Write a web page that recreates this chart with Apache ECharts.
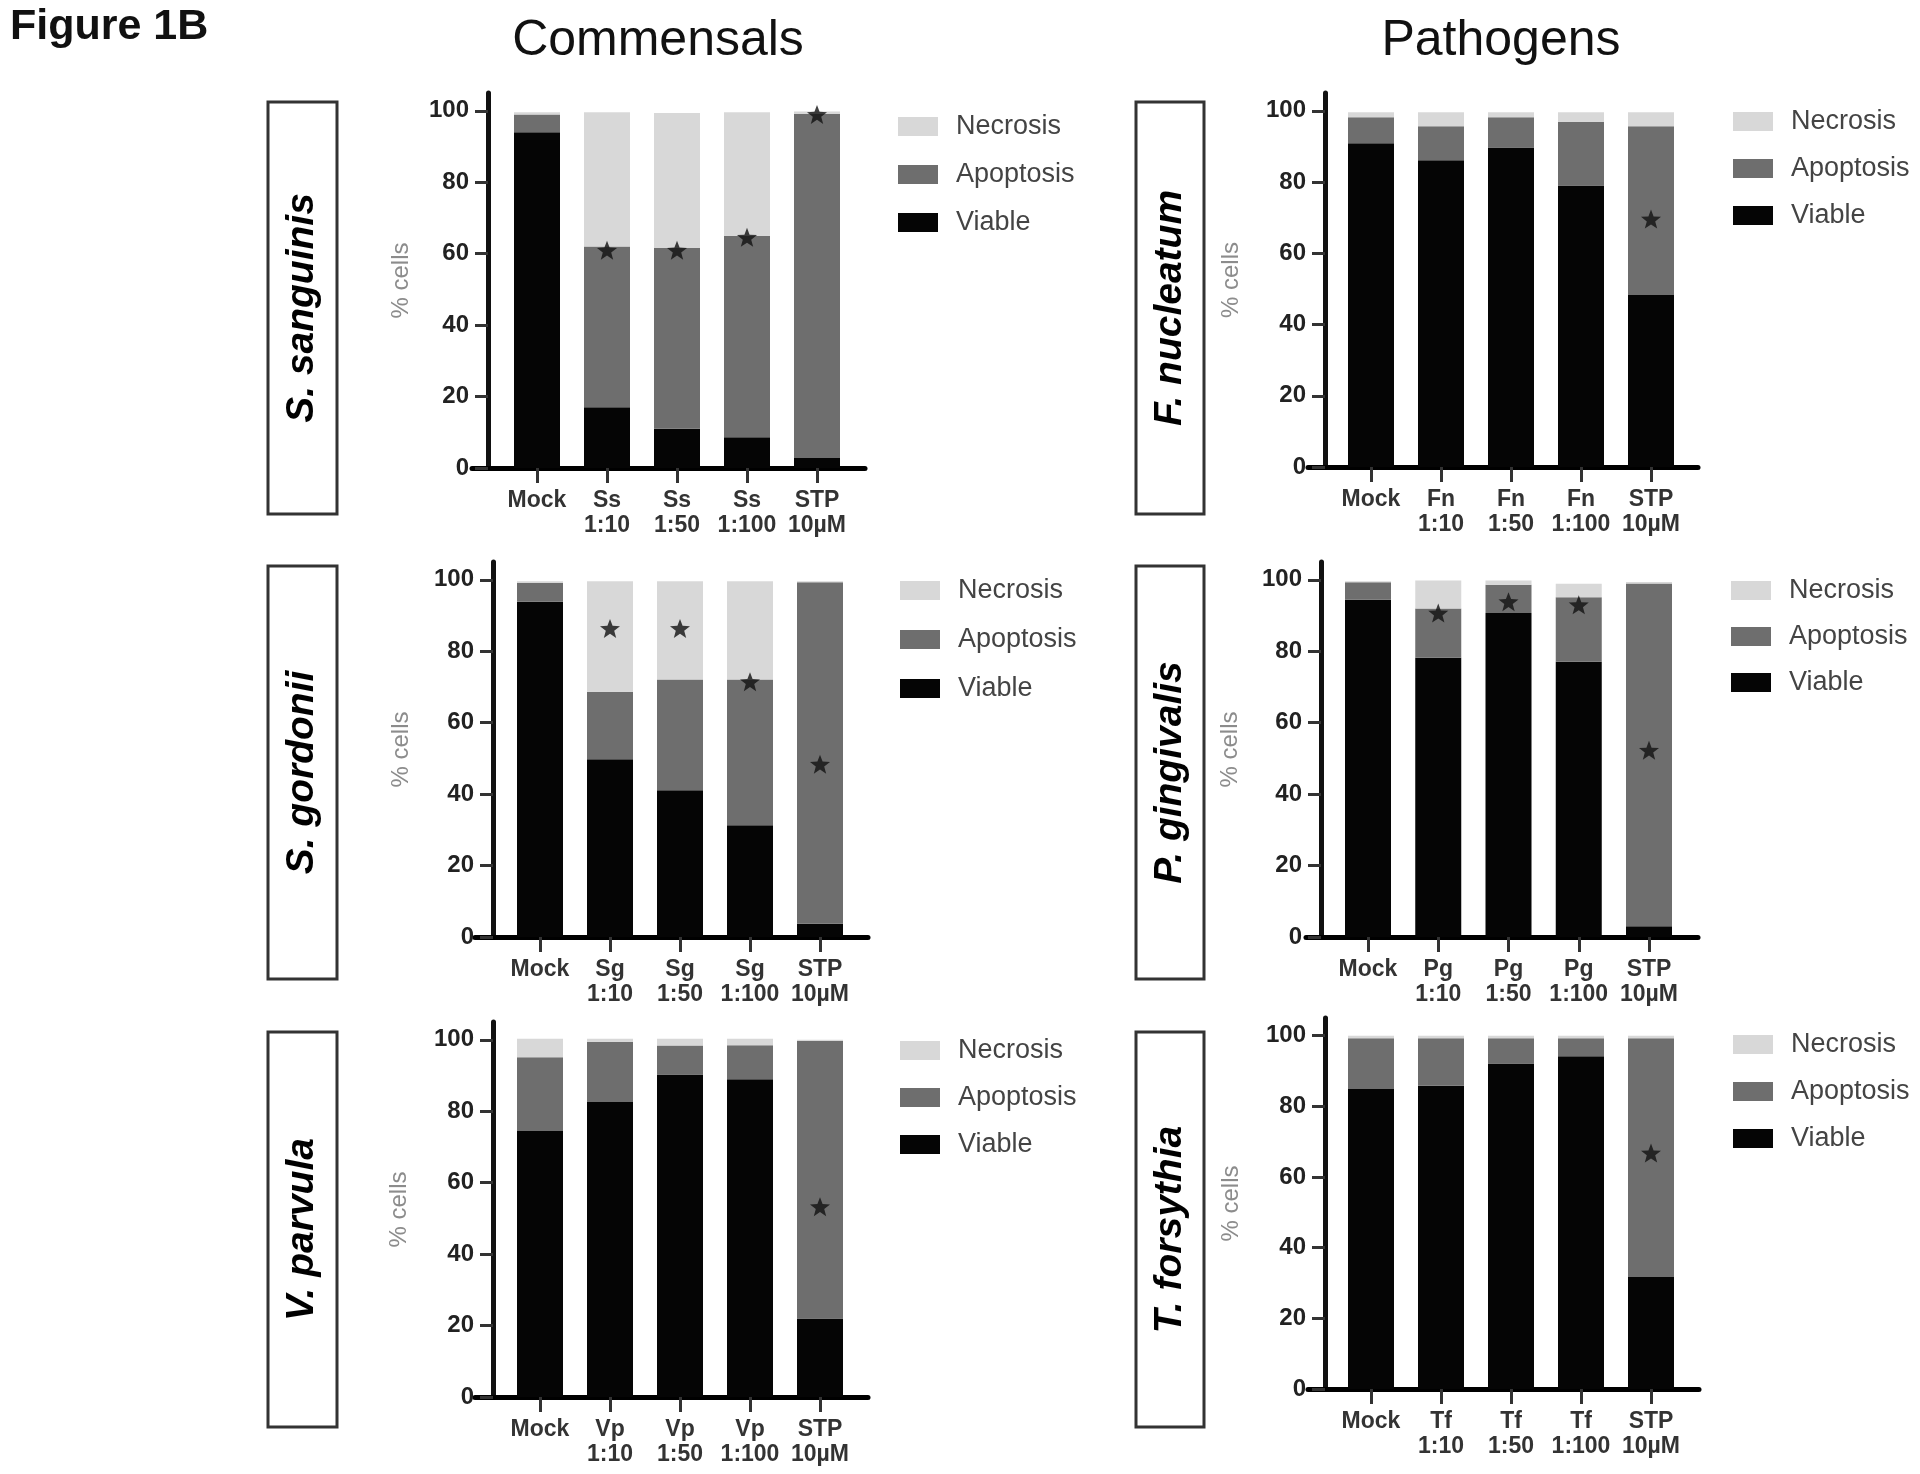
<!DOCTYPE html>
<html lang="en">
<head>
<meta charset="UTF-8">
<title>Figure 1B</title>
<style>
  html, body { margin: 0; padding: 0; background: #fff; }
  #fig { width: 1920px; height: 1474px; }
</style>
</head>
<body>
<div id="fig"></div>
<script src="https://cdn.jsdelivr.net/npm/echarts@6/dist/echarts.min.js"></script>
<script>
// x-axis categories of each panel
var catsSs = ['Mock', 'Ss\n1:10', 'Ss\n1:50', 'Ss\n1:100', 'STP\n10µM'];
var catsFn = ['Mock', 'Fn\n1:10', 'Fn\n1:50', 'Fn\n1:100', 'STP\n10µM'];
var catsSg = ['Mock', 'Sg\n1:10', 'Sg\n1:50', 'Sg\n1:100', 'STP\n10µM'];
var catsPg = ['Mock', 'Pg\n1:10', 'Pg\n1:50', 'Pg\n1:100', 'STP\n10µM'];
var catsVp = ['Mock', 'Vp\n1:10', 'Vp\n1:50', 'Vp\n1:100', 'STP\n10µM'];
var catsTf = ['Mock', 'Tf\n1:10', 'Tf\n1:50', 'Tf\n1:100', 'STP\n10µM'];

// % cells
var viableSs = [94, 17, 11, 8.6, 2.8];
var apopSs   = [5, 45, 50.6, 56.4, 96.4];
var necroSs  = [0.6, 37.6, 37.8, 34.6, 0.6];

var viableFn = [90.9, 86.1, 89.7, 79, 48.3];
var apopFn   = [7.3, 9.6, 8.5, 17.9, 47.4];
var necroFn  = [1.4, 3.9, 1.4, 2.7, 3.9];

var viableSg = [93.9, 49.8, 41.1, 31.3, 3.7];
var apopSg   = [5.2, 18.9, 31, 40.8, 95.6];
var necroSg  = [0.5, 30.9, 27.5, 27.5, 0.3];

var viablePg = [94.4, 78.2, 90.7, 77.1, 3];
var apopPg   = [4.9, 13.8, 7.9, 18, 96];
var necroPg  = [0.3, 7.8, 1.2, 3.8, 0.4];

var viableVp = [74.5, 82.6, 90.3, 89, 22];
var apopVp   = [20.6, 16.9, 8.1, 9.5, 77.7];
var necroVp  = [5.2, 0.8, 1.9, 1.8, 0.3];

var viableTf = [84.9, 85.8, 92.1, 94.2, 31.7];
var apopTf   = [14.4, 13.5, 7.2, 5.1, 67.6];
var necroTf  = [0.7, 0.7, 0.7, 0.7, 0.7];

// significance asterisks: [bar index, height in %]
var starsSs = [[1, 61], [2, 61], [3, 64.6], [4, 99]];
var starsFn = [[4, 69.6]];
var starsSg = [[1, 86.4], [2, 86.4], [3, 71.5], [4, 48.4]];
var starsPg = [[1, 90.7], [2, 93.9], [3, 93], [4, 52.3]];
var starsVp = [[4, 53.3]];
var starsTf = [[4, 66.8]];

var yTicks = [0, 20, 40, 60, 80, 100];
var legendNames = ['Necrosis', 'Apoptosis', 'Viable'];

var panels = [
  { name: 'S. sanguinis',  cats: catsSs, viable: viableSs, apop: apopSs, necro: necroSs, stars: starsSs },
  { name: 'F. nucleatum',  cats: catsFn, viable: viableFn, apop: apopFn, necro: necroFn, stars: starsFn },
  { name: 'S. gordonii',   cats: catsSg, viable: viableSg, apop: apopSg, necro: necroSg, stars: starsSg },
  { name: 'P. gingivalis', cats: catsPg, viable: viablePg, apop: apopPg, necro: necroPg, stars: starsPg },
  { name: 'V. parvula',    cats: catsVp, viable: viableVp, apop: apopVp, necro: necroVp, stars: starsVp },
  { name: 'T. forsythia',  cats: catsTf, viable: viableTf, apop: apopTf, necro: necroTf, stars: starsTf }
];

// where each panel sits on the page (px)
var layout = [
  { axisX: 488,  x0: 472,  x1: 865,  c0: 537,  step: 70,    top: 93,   zero: 468,  legL: 893,  legT: 108,  legGap: 21, nameGap: 75, box: [268, 102, 69, 412] },
  { axisX: 1325, x0: 1308, x1: 1698, c0: 1371, step: 70,    top: 93,   zero: 467,  legL: 1728, legT: 103,  legGap: 20, nameGap: 82, box: [1136, 102, 68, 412] },
  { axisX: 493,  x0: 475,  x1: 868,  c0: 540,  step: 70,    top: 562,  zero: 937,  legL: 895,  legT: 572,  legGap: 22, nameGap: 80, box: [268, 566, 69, 413] },
  { axisX: 1321, x0: 1306, x1: 1698, c0: 1368, step: 70.25, top: 562,  zero: 937,  legL: 1726, legT: 572,  legGap: 19, nameGap: 79, box: [1136, 566, 68, 413] },
  { axisX: 493,  x0: 475,  x1: 868,  c0: 540,  step: 70,    top: 1022, zero: 1397, legL: 895,  legT: 1032, legGap: 20, nameGap: 82, box: [268, 1032, 69, 395] },
  { axisX: 1325, x0: 1308, x1: 1699, c0: 1371, step: 70,    top: 1018, zero: 1389, legL: 1728, legT: 1026, legGap: 20, nameGap: 82, box: [1136, 1032, 68, 395] }
];

var FONT = '"Liberation Sans", Arial, Helvetica, sans-serif';
var COL_VIABLE = '#050505', COL_APOP = '#6e6e6e', COL_NECRO = '#d8d8d8';

// five-pointed star used for the asterisks
function starPath() {
  var pts = [];
  for (var k = 0; k < 10; k++) {
    var r = k % 2 ? 0.42 : 1;
    var a = -Math.PI / 2 + k * Math.PI / 5;
    pts.push((50 + 50 * r * Math.cos(a)).toFixed(1) + ',' + (50 + 50 * r * Math.sin(a)).toFixed(1));
  }
  return 'path://M' + pts.join('L') + 'Z';
}
var STAR = starPath();

// [value, position] so the value column comes first and gets stacked
function pairs(arr) {
  return arr.map(function (v, j) { return [v, j]; });
}

var grids = [], xAxes = [], yAxes = [], legends = [], series = [], graphics = [];

panels.forEach(function (p, i) {
  var L = layout[i];
  grids.push({ left: L.x0, top: L.top, width: L.x1 - L.x0, height: L.zero - L.top });

  xAxes.push({
    type: 'value', gridIndex: i,
    min: (L.x0 - L.c0) / L.step, max: (L.x1 - L.c0) / L.step,
    splitLine: { show: false },
    axisLine: { show: true, onZero: false, lineStyle: { color: '#000', width: 5 } },
    axisTick: { show: true, customValues: [0, 1, 2, 3, 4], length: 15, lineStyle: { color: '#333', width: 3 } },
    axisLabel: {
      customValues: [0, 1, 2, 3, 4],
      formatter: (function (cats) { return function (v) { return cats[Math.round(v)]; }; })(p.cats),
      fontFamily: FONT, fontSize: 23, fontWeight: 'bold', color: '#333', lineHeight: 25, margin: 20
    }
  });

  yAxes.push({
    type: 'value', gridIndex: i, min: 0, max: 105,
    offset: -(L.axisX - L.x0),
    splitLine: { show: false },
    axisLine: { show: true, onZero: false, lineStyle: { color: '#111', width: 5 } },
    axisTick: { show: true, customValues: yTicks, length: 13, lineStyle: { color: '#333', width: 3 } },
    axisLabel: { customValues: yTicks, fontFamily: FONT, fontSize: 24, fontWeight: 'bold', color: '#222', margin: 19 },
    name: '% cells', nameLocation: 'middle', nameGap: L.nameGap,
    nameTextStyle: { fontFamily: FONT, fontSize: 24, color: '#8c8c8c' }
  });

  legends.push({
    data: legendNames, orient: 'vertical', left: L.legL, top: L.legT,
    itemWidth: 40, itemHeight: 19, itemGap: L.legGap, icon: 'rect', selectedMode: false,
    textStyle: { fontFamily: FONT, fontSize: 27, color: '#444', padding: [0, 0, 0, 13] }
  });

  var common = { type: 'bar', stack: 'p' + i, xAxisIndex: i, yAxisIndex: i, barWidth: 46, encode: { x: 1, y: 0 } };
  series.push(Object.assign({ name: 'Viable', data: pairs(p.viable), itemStyle: { color: COL_VIABLE } }, common));
  series.push(Object.assign({ name: 'Apoptosis', data: pairs(p.apop), itemStyle: { color: COL_APOP } }, common));
  series.push(Object.assign({ name: 'Necrosis', data: pairs(p.necro), itemStyle: { color: COL_NECRO } }, common));
  series.push({
    name: 'sig', type: 'scatter', xAxisIndex: i, yAxisIndex: i, data: p.stars,
    symbol: STAR, symbolSize: [20, 19], itemStyle: { color: '#111' }, z: 5
  });

  // boxed species name on the left of each panel
  var b = L.box;
  graphics.push({
    type: 'rect', shape: { x: b[0], y: b[1], width: b[2], height: b[3] },
    style: { fill: 'none', stroke: '#333', lineWidth: 3 }
  });
  graphics.push({
    type: 'text', x: b[0] + b[2] / 2, y: b[1] + b[3] / 2, rotation: Math.PI / 2,
    style: { text: p.name, font: 'italic bold 39px ' + FONT, fill: '#000', align: 'center', verticalAlign: 'middle' }
  });
});

graphics.push({ type: 'text', x: 10, y: 27, style: { text: 'Figure 1B', font: 'bold 43px ' + FONT, fill: '#111', align: 'left', verticalAlign: 'middle' } });
graphics.push({ type: 'text', x: 658, y: 41, style: { text: 'Commensals', font: '50px ' + FONT, fill: '#111', align: 'center', verticalAlign: 'middle' } });
graphics.push({ type: 'text', x: 1501, y: 41, style: { text: 'Pathogens', font: '50px ' + FONT, fill: '#111', align: 'center', verticalAlign: 'middle' } });

var chart = echarts.init(document.getElementById('fig'));
chart.setOption({
  animation: false,
  backgroundColor: '#fff',
  grid: grids,
  xAxis: xAxes,
  yAxis: yAxes,
  legend: legends,
  series: series,
  graphic: graphics
});
</script>
</body>
</html>
